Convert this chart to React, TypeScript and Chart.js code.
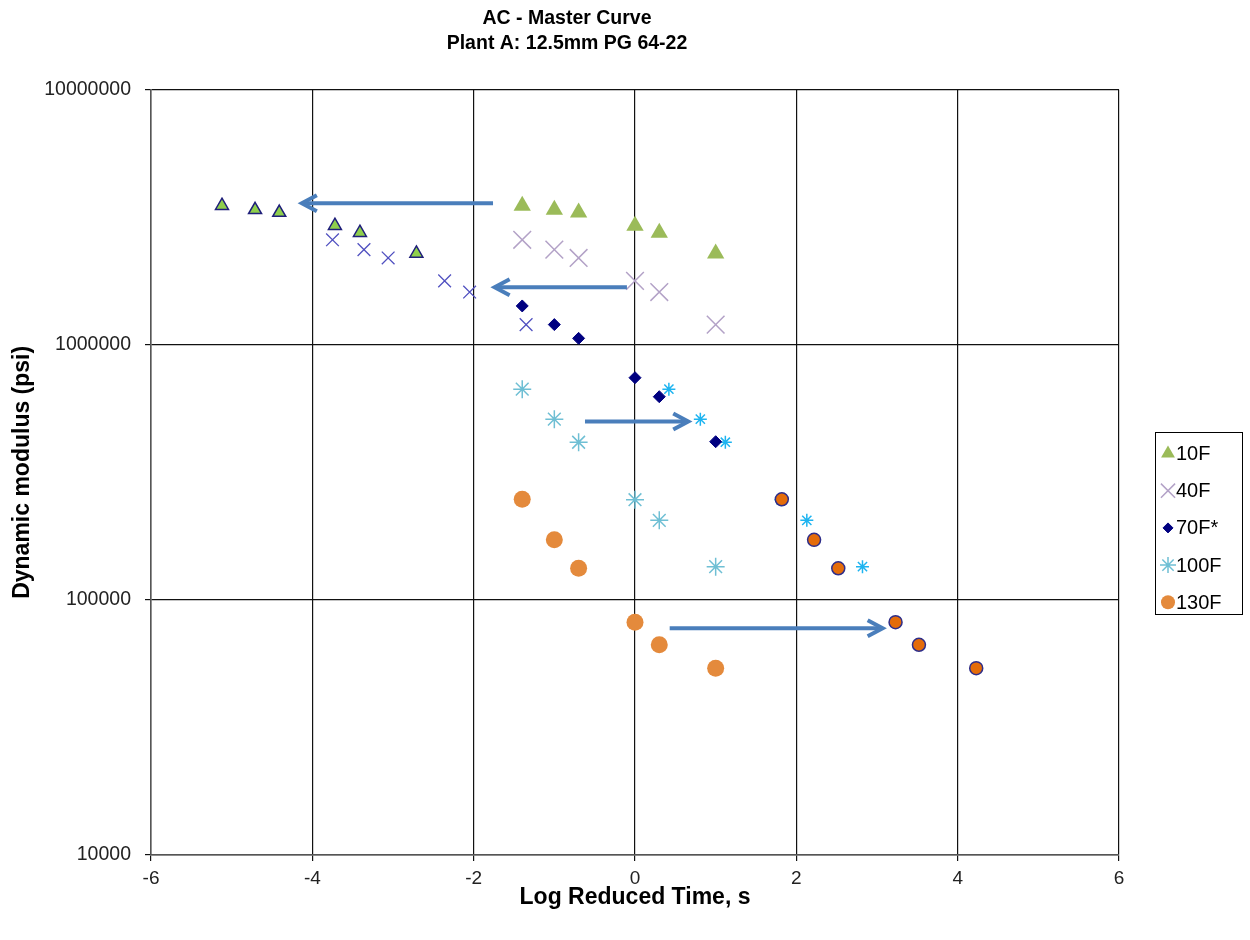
import { useEffect, useRef } from 'react';
import { Chart, registerables } from 'chart.js';
import { drawPoint } from 'chart.js/helpers';

Chart.register(...registerables);

const FONT = "'Liberation Sans', Arial, sans-serif";

// Measured log reduced time (s) at each test frequency (25, 10, 5, 1, 0.5, 0.1 Hz)
const timeMeasured = [-1.398, -1, -0.699, 0, 0.301, 1];
// Shifted (master-curve) times
const time10FShifted = [-5.12, -4.71, -4.41, -3.72, -3.41, -2.71];
const time40FShifted = [-3.75, -3.36, -3.06, -2.36, -2.05, -1.35];
const time100FShifted = [0.42, 0.81, 1.12, 1.81, 2.13, 2.82];
const time130FShifted = [1.82, 2.22, 2.52, 3.23, 3.52, 4.23];

// Dynamic modulus (psi)
const mod10F = [3510000, 3380000, 3300000, 2930000, 2750000, 2280000];
const mod40F = [2580000, 2360000, 2190000, 1780000, 1610000, 1200000];
const mod70F = [1420000, 1200000, 1060000, 743000, 626000, 417000];
const mod100F = [670000, 511000, 415000, 247000, 205000, 135000];
const mod130F = [248000, 172000, 133000, 81800, 66700, 54000];

const yTicks = [10000, 100000, 1000000, 10000000];

// Shift arrows (data units)
const arrowStartX = [-1.76, -0.1, -0.62, 0.43];
const arrowEndX = [-4.13, -1.74, 0.66, 3.07];
const arrowY = [3590000, 1680000, 500000, 77400];

const legendLabels = ['10F', '40F', '70F*', '100F', '130F'];

const pts = (xs: number[], ys: number[]) => xs.map((x, i) => ({ x, y: ys[i] }));

const arrowsPlugin = {
  id: 'shiftArrows',
  afterDatasetsDraw(chart: any) {
    const { ctx, scales } = chart;
    ctx.save();
    ctx.strokeStyle = '#4A7EBB';
    ctx.lineWidth = 4;
    ctx.lineCap = 'butt';
    ctx.lineJoin = 'miter';
    arrowStartX.forEach((sx, i) => {
      const x0 = scales.x.getPixelForValue(sx);
      const x1 = scales.x.getPixelForValue(arrowEndX[i]);
      const y = scales.y.getPixelForValue(arrowY[i]);
      const dir = x1 > x0 ? 1 : -1;
      ctx.beginPath();
      ctx.moveTo(x0, y);
      ctx.lineTo(x1 - dir * 2, y);
      ctx.stroke();
      ctx.beginPath();
      ctx.moveTo(x1 - dir * 15, y - 8);
      ctx.lineTo(x1, y);
      ctx.lineTo(x1 - dir * 15, y + 8);
      ctx.stroke();
    });
    ctx.restore();
  },
};

const boxLegendPlugin = {
  id: 'boxLegend',
  afterDraw(chart: any) {
    const { ctx, chartArea } = chart;
    const entries = chart.data.datasets.filter((d: any) => legendLabels.includes(d.label));
    const left = chartArea.right + 36;
    const top = 432.5;
    const w = 87;
    const rowH = 37.2;
    const h = 182;
    ctx.save();
    ctx.fillStyle = '#fff';
    ctx.fillRect(left, top, w, h);
    ctx.strokeStyle = '#000';
    ctx.lineWidth = 1;
    ctx.strokeRect(Math.round(left) + 0.5, top, w, h);
    entries.forEach((d: any, i: number) => {
      const cy = top + 21 + i * rowH;
      const mx = left + 13;
      ctx.fillStyle = d.backgroundColor;
      ctx.strokeStyle = d.borderColor;
      ctx.lineWidth = d.pointBorderWidth ?? 1;
      drawPoint(ctx, {
        pointStyle: d.pointStyle,
        radius: d.legendRadius,
        borderWidth: d.pointBorderWidth ?? 1,
        rotation: 0,
      } as any, mx, cy);
      ctx.fillStyle = '#000';
      ctx.font = `20px ${FONT}`;
      ctx.textBaseline = 'middle';
      ctx.textAlign = 'left';
      ctx.fillText(d.label, left + 21, cy + 1);
    });
    ctx.restore();
  },
};

export default function App() {
  const ref = useRef<HTMLCanvasElement>(null);
  useEffect(() => {
    document.body.style.margin = '0';
    const canvas = ref.current!;
    const chart = new Chart(canvas, {
      type: 'scatter',
      data: {
        datasets: [
          {
            label: '10F',
            data: pts(timeMeasured, mod10F),
            pointStyle: 'triangle',
            pointRadius: 10,
            pointBorderWidth: 0,
            backgroundColor: '#9BBB59',
            borderColor: '#9BBB59',
            legendRadius: 8,
          } as any,
          {
            label: '40F',
            data: pts(timeMeasured, mod40F),
            pointStyle: 'crossRot',
            pointRadius: 12.5,
            pointBorderWidth: 1.5,
            backgroundColor: '#B3A2C7',
            borderColor: '#B3A2C7',
            legendRadius: 10,
          } as any,
          {
            label: '70F*',
            data: pts(timeMeasured, mod70F),
            pointStyle: 'rectRot',
            pointRadius: 6,
            pointBorderWidth: 1,
            backgroundColor: '#000080',
            borderColor: '#000080',
            legendRadius: 5,
          } as any,
          {
            label: '100F',
            data: pts(timeMeasured, mod100F),
            pointStyle: 'star',
            pointRadius: 9,
            pointBorderWidth: 1.5,
            backgroundColor: '#6FBFD4',
            borderColor: '#6FBFD4',
            legendRadius: 8,
          } as any,
          {
            label: '130F',
            data: pts(timeMeasured, mod130F),
            pointStyle: 'circle',
            pointRadius: 8.5,
            pointBorderWidth: 0,
            backgroundColor: '#E48A3C',
            borderColor: '#E48A3C',
            legendRadius: 7,
          } as any,
          {
            label: '10F shifted',
            data: pts(time10FShifted, mod10F),
            pointStyle: 'triangle',
            pointRadius: 7.5,
            pointBorderWidth: 1.5,
            backgroundColor: '#8FCF4C',
            borderColor: '#1F1F7A',
          },
          {
            label: '40F shifted',
            data: pts(time40FShifted, mod40F),
            pointStyle: 'crossRot',
            pointRadius: 9,
            pointBorderWidth: 1.3,
            backgroundColor: '#5050C0',
            borderColor: '#5050C0',
          },
          {
            label: '130F shifted',
            data: pts(time130FShifted, mod130F),
            pointStyle: 'circle',
            pointRadius: 6.5,
            pointBorderWidth: 1.5,
            backgroundColor: '#E46C0A',
            borderColor: '#2E2E8A',
          },
          {
            label: '100F shifted',
            data: pts(time100FShifted, mod100F),
            pointStyle: 'star',
            pointRadius: 6.5,
            pointBorderWidth: 1.5,
            backgroundColor: '#1EB4F0',
            borderColor: '#1EB4F0',
          },
        ],
      },
      options: {
        responsive: false,
        animation: false,
        layout: { padding: { left: 15, right: 131, top: 0, bottom: 0 } },
        plugins: {
          legend: { display: false },
          tooltip: { enabled: false },
          title: {
            display: true,
            text: ['AC - Master Curve', 'Plant A: 12.5mm PG 64-22'],
            color: '#000',
            font: { family: FONT, size: 19.5, weight: 'bold', lineHeight: 1.3 },
            padding: { top: 6, bottom: 33 },
          },
        },
        scales: {
          x: {
            type: 'linear',
            min: -6,
            max: 6,
            afterFit: (s: any) => {
              s.height = 85;
            },
            ticks: {
              stepSize: 2,
              color: '#222',
              padding: 6,
              font: { family: FONT, size: 19 },
            },
            grid: { color: '#111', lineWidth: 1.2, tickLength: 6 },
            border: { color: '#555', width: 1.5 },
            title: {
              display: true,
              text: 'Log Reduced Time, s',
              color: '#000',
              font: { family: FONT, size: 23, weight: 'bold' },
              padding: { top: 0, bottom: 29 },
            },
          },
          y: {
            type: 'logarithmic',
            min: 10000,
            max: 10000000,
            afterBuildTicks: (s: any) => {
              s.ticks = yTicks.map((v) => ({ value: v }));
            },
            afterFit: (s: any) => {
              s.width = 136;
            },
            ticks: {
              autoSkip: false,
              color: '#222',
              padding: 14,
              font: { family: FONT, size: 19.5 },
              callback: (v: any) => String(v),
            },
            grid: { color: '#111', lineWidth: 1.2, tickLength: 6 },
            border: { color: '#555', width: 1.5 },
            title: {
              display: true,
              text: 'Dynamic modulus (psi)',
              color: '#000',
              font: { family: FONT, size: 23, weight: 'bold' },
              padding: { top: -6, bottom: 0 },
            },
          },
        },
      } as any,
      plugins: [arrowsPlugin, boxLegendPlugin],
    });
    return () => chart.destroy();
  }, []);
  return (
    <div style={{ width: 1250, height: 940 }}>
      <canvas ref={ref} width={1250} height={940} style={{ display: 'block' }} />
    </div>
  );
}
